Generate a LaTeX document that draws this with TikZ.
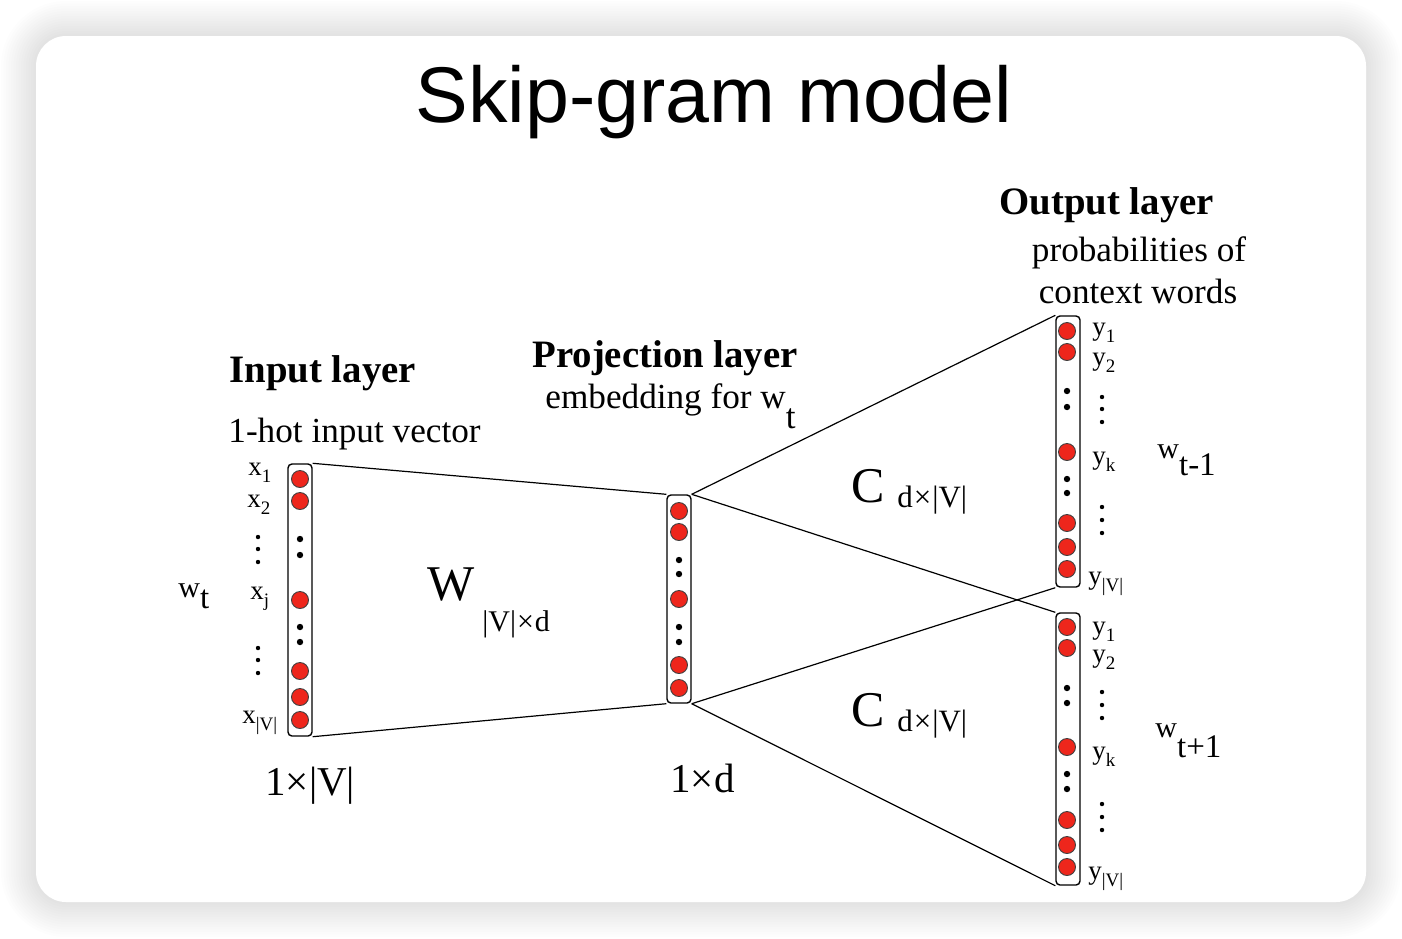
\documentclass[tikz,border=0pt]{standalone}
\usepackage{fontspec}
\setmainfont{Liberation Serif}
\newfontfamily\titlefamily{Liberation Sans}
\usetikzlibrary{positioning}

\definecolor{unitred}{RGB}{238,38,28}
\newcommand{\setfs}[1]{\fontsize{#1}{#1}\selectfont}
\newcommand{\lowidx}[2]{#1\raisebox{-3.5pt}{\setfs{9.5}#2}}

\tikzset{
  layerbox/.style={draw, rounded corners=2pt, minimum width=12pt, inner sep=0pt, line width=0.7pt, fill=white},
  neuron/.style={circle, draw=black!75, fill=unitred, minimum size=8.5pt, inner sep=0pt, line width=0.45pt},
  link/.style={line width=0.6pt},
  headtext/.style={anchor=base west, inner sep=0pt, font=\bfseries\setfs{19.4}},
  desctext/.style={anchor=base west, inner sep=0pt, font=\setfs{17.6}},
  idxtext/.style={anchor=base west, inner sep=0pt, font=\setfs{13.5}},
  wordtext/.style={anchor=base west, inner sep=0pt, font=\setfs{15}},
}

\begin{document}
\begin{tikzpicture}[x=0.5pt,y=-0.5pt]
    \useasboundingbox (0,0) rectangle (1402,938);

    % card and its shadow
    \foreach \k [evaluate=\k as \r using 15+1.25*\k] in {1,...,14}
        \fill[black, opacity=0.009, rounded corners=\r pt] (36-2.5*\k,36-2.5*\k) rectangle (1366+2.5*\k,902+2.5*\k);
    \fill[white, rounded corners=15pt] (36,36) rectangle (1366,902);

    \node[anchor=base, inner sep=0pt, font=\titlefamily\setfs{39.5}] (title) at (714,122) {Skip-gram model};

    % layers
    \node[layerbox, minimum height=136pt] (input_col) at (300,600) {};
    \node[layerbox, minimum height=104pt] (proj_col) at (679,599) {};
    \node[layerbox, minimum height=135.5pt] (prev_col) at (1068,451.5) {};
    \node[layerbox, minimum height=136pt] (next_col) at (1068,749) {};

    \draw[link] (input_col.north east) -- (proj_col.north west);
    \draw[link] (input_col.south east) -- (proj_col.south west);
    \draw[link] (proj_col.north east) -- (prev_col.north west);
    \draw[link] (proj_col.north east) -- (next_col.north west);
    \draw[link] (proj_col.south east) -- (prev_col.south west);
    \draw[link] (proj_col.south east) -- (next_col.south west);

    % units
    \foreach \y [count=\i] in {479,501,600,671,697,720}
        \node[neuron] (in_u\i) at (300,\y) {};
    \foreach \y in {539,555,627,642}
        \fill (300,\y) circle (1.6pt);

    \foreach \y [count=\i] in {511,532,599,665,688}
        \node[neuron] (proj_u\i) at (679,\y) {};
    \foreach \y in {560,574,627,642}
        \fill (679,\y) circle (1.6pt);

    \foreach \y [count=\i] in {331,352,452,523,547,569}
        \node[neuron] (prev_u\i) at (1067,\y) {};
    \foreach \y in {391,407,479,493}
        \fill (1067,\y) circle (1.6pt);

    \foreach \y [count=\i] in {627,648,747,820,845,867}
        \node[neuron] (next_u\i) at (1067,\y) {};
    \foreach \y in {688,703,774,789}
        \fill (1067,\y) circle (1.6pt);

    % label dots
    \foreach \x/\y in {258/537,258/549,258/562,258/648,258/660,258/673,
                       1102/397,1102/409,1102/422,1102/507,1102/520,1102/533,
                       1102/692,1102/705,1102/718,1102/804,1102/817,1102/830}
        \fill (\x,\y) circle (1.1pt);

    % input labels
    \node[idxtext] (lbl_x1) at (248,475) {\lowidx{x}{1}};
    \node[idxtext] (lbl_x2) at (247,507) {\lowidx{x}{2}};
    \node[idxtext] (lbl_xj) at (250,599) {\lowidx{x}{j}};
    \node[idxtext] (lbl_xv) at (242,723) {\lowidx{x}{|V|}};

    % output labels
    \node[idxtext] (prev_y1) at (1092,335) {\lowidx{y}{1}};
    \node[idxtext] (prev_y2) at (1092,365) {\lowidx{y}{2}};
    \node[idxtext] (prev_yk) at (1092,464) {\lowidx{y}{k}};
    \node[idxtext] (prev_yv) at (1088,584) {\lowidx{y}{|V|}};
    \node[idxtext] (next_y1) at (1092,634) {\lowidx{y}{1}};
    \node[idxtext] (next_y2) at (1092,662) {\lowidx{y}{2}};
    \node[idxtext] (next_yk) at (1092,759) {\lowidx{y}{k}};
    \node[idxtext] (next_yv) at (1088,879) {\lowidx{y}{|V|}};

    \node[wordtext] (word_t) at (178,597) {w\raisebox{-5.5pt}{\setfs{16.5}t}};
    \node[wordtext] (word_prev) at (1157,458) {w\raisebox{-8.5pt}{\setfs{16.5}t-1}};
    \node[wordtext] (word_next) at (1155,737) {w\raisebox{-10pt}{\setfs{16.5}t+1}};

    % headings
    \node[headtext] (in_head) at (229,382) {Input layer};
    \node[desctext] (in_desc) at (228,442) {1-hot input vector};
    \node[headtext] (proj_head) at (532,367) {Projection layer};
    \node[desctext] (proj_desc) at (545,408) {embedding for w\raisebox{-10pt}{t}};
    \node[headtext] (out_head) at (999,214) {Output layer};
    \node[desctext, anchor=base] (out_desc1) at (1139,261) {probabilities of};
    \node[desctext, anchor=base] (out_desc2) at (1138,303) {context words};

    % weights
    \node[anchor=base west, inner sep=0pt, font=\setfs{25}] (w_mat) at (427,600) {W};
    \node[anchor=base west, inner sep=0pt, font=\setfs{15}] (w_dim) at (482,631) {|V|\kern0.5pt×\kern0.5pt d};
    \node[anchor=base west, inner sep=0pt, font=\setfs{25}] (c_prev) at (851,502) {C};
    \node[anchor=base west, inner sep=0pt, font=\setfs{15.5}] (c_prev_dim) at (897,507) {d\kern0.5pt×\kern0.5pt|V|};
    \node[anchor=base west, inner sep=0pt, font=\setfs{25}] (c_next) at (851,726) {C};
    \node[anchor=base west, inner sep=0pt, font=\setfs{15.5}] (c_next_dim) at (897,731) {d\kern0.5pt×\kern0.5pt|V|};

    % sizes
    \node[anchor=base west, inner sep=0pt, font=\setfs{20.5}] (in_size) at (265,795) {1×|V|};
    \node[anchor=base west, inner sep=0pt, font=\setfs{20.5}] (proj_size) at (670,792) {1×d};
\end{tikzpicture}
\end{document}
